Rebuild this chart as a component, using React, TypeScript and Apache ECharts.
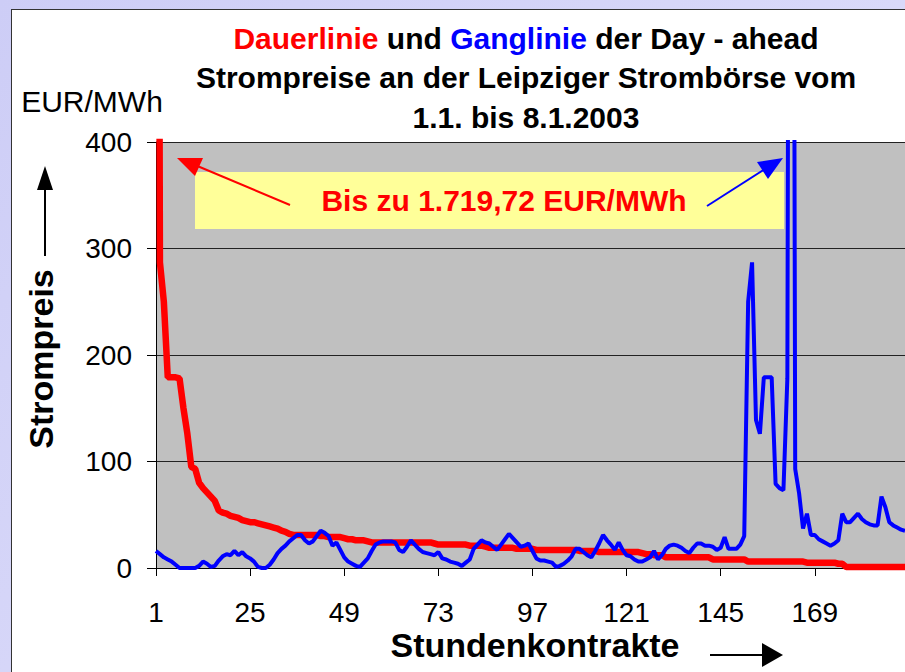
import React, { useEffect, useRef } from 'react';
import * as echarts from 'echarts';

const FONT = '"Liberation Sans", Arial, sans-serif';

// Stundenkontrakte 1..192 (1.1. bis 8.1.2003)
const hours: string[] = Array.from({ length: 192 }, (_, i) => String(i + 1));

// Ganglinie (blue): hourly day-ahead prices, EUR/MWh
const ganglinie: number[] = [
  16, 13, 10, 8, 6, 3, 0, 0, 0, 0,
  0, 2, 6, 4, 1, 2, 7, 11, 13, 12,
  16, 12, 15, 11, 9, 6, 1, 0, 0, 3,
  8, 14, 18, 21, 25, 28, 31, 31, 26, 23,
  25, 30, 35, 33, 30, 21, 24, 17, 10, 6,
  4, 2, 1, 5, 9, 16, 22, 24, 25, 25,
  25, 24, 17, 15, 20, 26, 22, 18, 15, 14,
  13, 12, 15, 9, 8, 6, 5, 4, 2, 5,
  8, 18, 22, 26, 24, 23, 20, 17, 22, 27,
  32, 28, 24, 20, 21, 23, 16, 9, 7, 7,
  6, 5, 1, 2, 4, 7, 11, 18, 18, 15,
  12, 10, 16, 23, 31, 26, 22, 17, 24, 17,
  12, 11, 8, 6, 6, 8, 10, 16, 8, 12,
  18, 21, 22, 21, 19, 16, 14, 19, 23, 23,
  21, 21, 20, 17, 19, 29, 18, 18, 18, 22,
  30, 250, 287, 139, 126, 179, 179, 179, 79, 75,
  73, 178, 1719.72, 93, 70, 37, 51, 31, 31, 27,
  25, 23, 21, 23, 26, 51, 43, 43, 47, 51,
  46, 43, 41, 40, 40, 67, 57, 43, 40, 38,
  36, 35,
];

// Dauerlinie (red): prices sorted in descending order, EUR/MWh
const dauerlinie: number[] = [
  1719.72, 287, 250, 179, 179, 179, 178, 150, 126, 95,
  93, 80, 75, 71, 67, 63, 54, 52, 51, 49,
  48, 47, 45, 44, 43, 43, 42, 41, 40, 39,
  38, 37, 35, 34, 32, 31, 31, 31, 31, 31,
  31, 31, 30, 30, 29, 29, 29, 29, 28, 27,
  27, 26, 26, 26, 25, 24, 24, 24, 24, 24,
  24, 24, 24, 24, 24, 24, 24, 24, 24, 24,
  24, 23, 22, 22, 22, 22, 22, 22, 22, 22,
  21, 21, 21, 21, 20, 19, 19, 19, 19, 19,
  19, 19, 18, 18, 18, 18, 18, 17, 17, 17,
  17, 17, 17, 17, 17, 17, 17, 17, 16, 16,
  16, 16, 16, 15, 15, 15, 15, 15, 15, 15,
  15, 15, 15, 15, 14, 13, 13, 12, 12, 12,
  10, 10, 10, 10, 10, 10, 10, 10, 10, 10,
  10, 10, 8, 8, 8, 8, 8, 8, 8, 8,
  8, 6, 6, 6, 6, 6, 6, 6, 6, 6,
  6, 6, 6, 6, 6, 6, 5, 5, 5, 5,
  5, 5, 5, 5, 4, 4, 1, 1, 1, 1,
  1, 1, 1, 1, 1, 1, 1, 1, 1, 1,
  1, 1,
];

const titleLine1 = '{r|Dauerlinie} und {b|Ganglinie} der Day - ahead';
const titleLine2 = 'Strompreise an der Leipziger Strombörse vom';
const titleLine3 = '1.1. bis 8.1.2003';
const yUnit = 'EUR/MWh';
const yTitle = 'Strompreis';
const xTitle = 'Stundenkontrakte';
const noteText = 'Bis zu 1.719,72 EUR/MWh';

export default function App() {
  const ref = useRef<HTMLDivElement>(null);
  useEffect(() => {
    document.body.style.margin = '0';
    const chart = echarts.init(ref.current!, null, { renderer: 'svg' });
    const boldTitle = `bold 30px ${FONT}`;
    chart.setOption({
      animation: false,
      backgroundColor: 'transparent',
      textStyle: { fontFamily: FONT },
      grid: {
        left: 156,
        right: -3,
        top: 142,
        bottom: 104,
        show: true,
        backgroundColor: '#C0C0C0',
        borderWidth: 0,
      },
      xAxis: {
        type: 'category',
        data: hours,
        boundaryGap: false,
        axisLine: { lineStyle: { color: '#000', width: 1 } },
        axisTick: { interval: 23, length: 8, lineStyle: { color: '#000' } },
        axisLabel: {
          interval: 23,
          fontSize: 28,
          lineHeight: 28,
          color: '#000',
          margin: 30,
          fontFamily: FONT,
        },
        splitLine: { show: false },
      },
      yAxis: {
        type: 'value',
        min: 0,
        max: 400,
        interval: 100,
        axisLine: { show: true, lineStyle: { color: '#000' } },
        axisTick: { show: true, length: 9, lineStyle: { color: '#000' } },
        axisLabel: { fontSize: 28, color: '#000', margin: 24, fontFamily: FONT },
        splitLine: { lineStyle: { color: '#222', width: 1 } },
      },
      series: [
        {
          type: 'line',
          name: 'Dauerlinie',
          data: dauerlinie,
          showSymbol: false,
          symbol: 'none',
          lineStyle: { color: '#FF0000', width: 6.5 },
          itemStyle: { color: '#FF0000' },
          z: 2,
        },
        {
          type: 'line',
          name: 'Ganglinie',
          data: ganglinie,
          showSymbol: false,
          symbol: 'none',
          lineStyle: { color: '#0000FF', width: 4 },
          itemStyle: { color: '#0000FF' },
          z: 3,
        },
      ],
      graphic: [
        {
          type: 'text', x: 526, y: 38, z: 100,
          style: {
            text: titleLine1, font: boldTitle, fill: '#000', align: 'center', verticalAlign: 'middle',
            rich: {
              r: { fill: '#FF0000', font: boldTitle },
              b: { fill: '#0000FF', font: boldTitle },
            },
          },
        },
        {
          type: 'text', x: 526, y: 77, z: 100,
          style: { text: titleLine2, font: boldTitle, fill: '#000', align: 'center', verticalAlign: 'middle' },
        },
        {
          type: 'text', x: 526, y: 117, z: 100,
          style: { text: titleLine3, font: boldTitle, fill: '#000', align: 'center', verticalAlign: 'middle' },
        },
        {
          type: 'text', x: 92, y: 101, z: 100,
          style: { text: yUnit, font: `30px ${FONT}`, fill: '#000', align: 'center', verticalAlign: 'middle' },
        },
        {
          type: 'rect', z: 50,
          shape: { x: 195, y: 172, width: 589, height: 57 },
          style: { fill: '#FFFF99' },
        },
        {
          type: 'text', x: 504, y: 200, z: 101,
          style: { text: noteText, font: boldTitle, fill: '#FF0000', align: 'center', verticalAlign: 'middle' },
        },
        {
          type: 'line', z: 101,
          shape: { x1: 290, y1: 205, x2: 195, y2: 165 },
          style: { stroke: '#FF0000', lineWidth: 2 },
        },
        {
          type: 'polygon', z: 101,
          shape: { points: [[177, 158], [203, 158], [195, 176]] },
          style: { fill: '#FF0000' },
        },
        {
          type: 'line', z: 101,
          shape: { x1: 707, y1: 206, x2: 765, y2: 169 },
          style: { stroke: '#0000FF', lineWidth: 2 },
        },
        {
          type: 'polygon', z: 101,
          shape: { points: [[783, 158], [757, 162], [768, 179]] },
          style: { fill: '#0000FF' },
        },
        {
          type: 'text', x: 41, y: 359, rotation: Math.PI / 2, z: 100,
          style: { text: yTitle, font: `bold 34px ${FONT}`, fill: '#000', align: 'center', verticalAlign: 'middle' },
        },
        {
          type: 'line', z: 100,
          shape: { x1: 45, y1: 256, x2: 45, y2: 186 },
          style: { stroke: '#000', lineWidth: 2 },
        },
        {
          type: 'polygon', z: 100,
          shape: { points: [[45, 166], [37, 190], [53, 190]] },
          style: { fill: '#000' },
        },
        {
          type: 'text', x: 535, y: 645, z: 100,
          style: { text: xTitle, font: `bold 34px ${FONT}`, fill: '#000', align: 'center', verticalAlign: 'middle' },
        },
        {
          type: 'line', z: 100,
          shape: { x1: 710, y1: 655, x2: 765, y2: 655 },
          style: { stroke: '#000', lineWidth: 2 },
        },
        {
          type: 'polygon', z: 100,
          shape: { points: [[783, 655], [762, 643], [762, 667]] },
          style: { fill: '#000' },
        },
      ],
    });
    return () => chart.dispose();
  }, []);

  return (
    <div
      style={{
        position: 'relative',
        width: 905,
        height: 672,
        overflow: 'hidden',
        background: 'linear-gradient(135deg, #cdcdf6 0%, #e2e2fb 100%)',
      }}
    >
      <div
        style={{
          position: 'absolute',
          left: 11,
          top: 9,
          width: 1000,
          height: 1000,
          background: '#ffffff',
          border: '1px solid #333',
        }}
      />
      <div ref={ref} style={{ position: 'absolute', left: 0, top: 0, width: 905, height: 672 }} />
    </div>
  );
}
